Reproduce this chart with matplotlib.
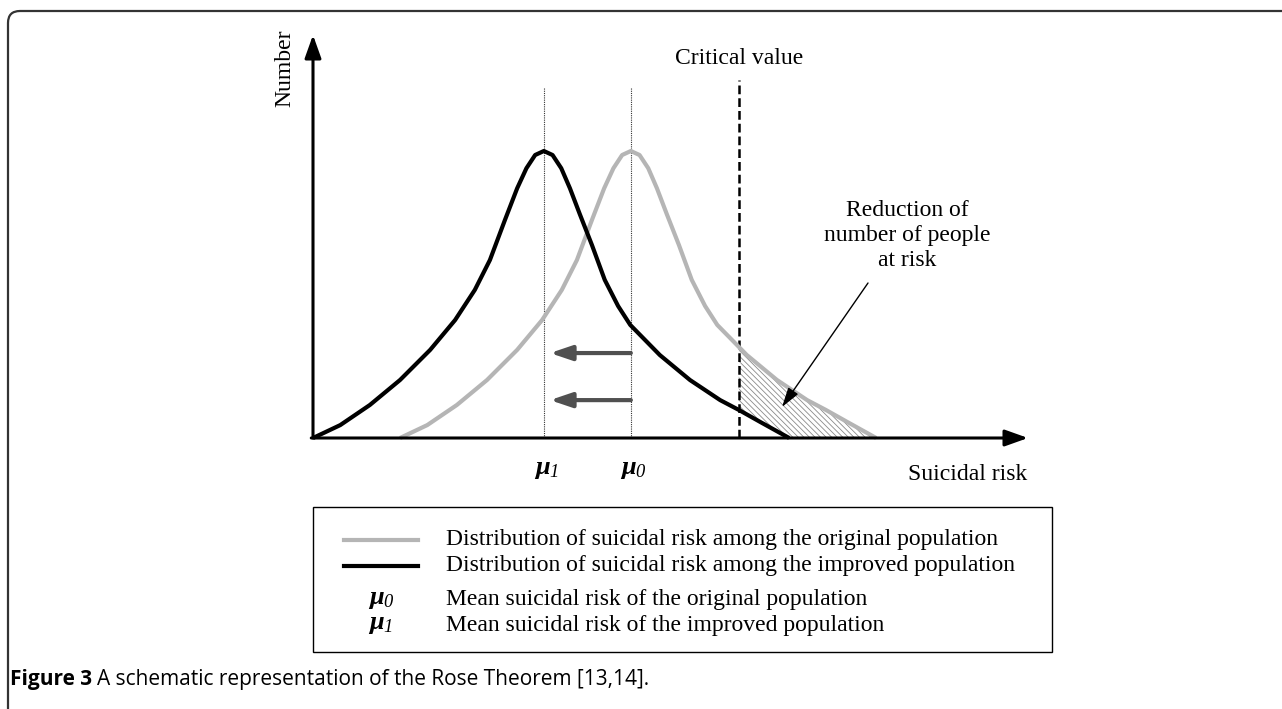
import numpy as np
import matplotlib.pyplot as plt
from matplotlib.patches import FancyBboxPatch, Rectangle
from matplotlib.lines import Line2D
from matplotlib.transforms import IdentityTransform

plt.rcParams['font.family'] = ['Liberation Serif', 'DejaVu Serif']
plt.rcParams['mathtext.fontset'] = 'custom'
plt.rcParams['mathtext.it'] = 'Liberation Serif:italic:bold'
plt.rcParams['mathtext.rm'] = 'Liberation Serif:italic'
plt.rcParams['hatch.linewidth'] = 0.6

W, H = 1282, 709

# distribution curves (risk units, number with peak = 100)
improved_x = [0, 4.7, 9.8, 15.0, 20.2, 24.5, 27.9, 30.5, 33.1, 35.2, 36.8, 38.3, 39.8,
              41.3, 42.8, 44.3, 46.0, 48.1, 50.3, 52.6, 54.7, 59.8, 65.0, 70.2, 73.4, 77.1, 82.1]
improved_y = [0, 4.5, 11.5, 20.2, 30.7, 41.1, 51.6, 62.0, 76.0, 87.0, 94.0, 98.6, 100,
              98.6, 94.0, 87.0, 78.0, 67.2, 55.1, 46.0, 39.4, 28.9, 20.2, 13.2, 9.8, 5.6, 0]
original_x = [15, 19.7, 24.8, 30.0, 35.2, 39.5, 42.9, 45.5, 48.1, 50.2, 51.8, 53.3, 54.8,
              56.3, 57.8, 59.3, 61.0, 63.1, 65.3, 67.6, 69.7, 74.8, 80.0, 85.2, 88.4, 92.1, 97.1]
original_y = [0, 4.5, 11.5, 20.2, 30.7, 41.1, 51.6, 62.0, 76.0, 87.0, 94.0, 98.6, 100,
              98.6, 94.0, 87.0, 78.0, 67.2, 55.1, 46.0, 39.4, 28.9, 20.2, 13.2, 9.8, 5.6, 0]

mu1 = 39.8
mu0 = 54.8
critical = 73.4
shift_y = [29.6, 13.2]

legend_lines = ['Distribution of suicidal risk among the original population',
                'Distribution of suicidal risk among the improved population']
legend_means = ['Mean suicidal risk of the original population',
                'Mean suicidal risk of the improved population']

# pixel mapping of the drawing
x0, y0, sx, sy = 313, 438, 5.8, 2.87

fig = plt.figure(figsize=(W / 100, H / 100), dpi=100)
ax = fig.add_axes([0, 0, 1, 1])
ax.set_xlim(-x0 / sx, (W - x0) / sx)
ax.set_ylim(-(H - y0) / sy, y0 / sy)
ax.axis('off')


def fx(px):
    return px / W


def fy(py):
    return 1 - py / H


# outer frame with a rounded corner
frame = FancyBboxPatch((8, -60), 1400, H - 11 + 60, boxstyle='round,pad=0,rounding_size=12',
                       transform=IdentityTransform(), fill=False, ec='#333333', lw=1.6)
fig.add_artist(frame)

# hatched region between the curves right of the critical value
xs = np.linspace(critical, original_x[-1], 300)
upper = np.interp(xs, original_x, original_y)
lower = np.interp(xs, improved_x, improved_y, right=0)
ax.fill_between(xs, lower, upper, facecolor='white', edgecolor='#8a8a8a', hatch='\\\\\\\\\\\\', lw=0)

# mean lines
for m in (mu1, mu0):
    ax.plot([m, m], [0, (y0 - 88) / sy], ls=(0, (1, 1)), lw=0.8, color='#333333')

# critical value
ax.plot([critical, critical], [0, (y0 - 80) / sy], color='k', lw=1.8, dashes=(3.5, 1.6))
ax.text(critical, (y0 - 58) / sy, 'Critical value', ha='center', va='center', fontsize=17)

# curves
ax.plot(original_x, original_y, color='#b5b5b5', lw=3, solid_capstyle='butt', solid_joinstyle='round')
ax.plot(improved_x, improved_y, color='k', lw=3, solid_capstyle='butt', solid_joinstyle='round')

# axes with arrowheads
ax.annotate('', xy=(0, (y0 - 35) / sy), xytext=(0, 0),
            arrowprops=dict(arrowstyle='-|>,head_length=0.7,head_width=0.25', lw=2.2,
                            color='k', mutation_scale=20, shrinkA=0, shrinkB=0))
ax.annotate('', xy=((1028 - x0) / sx, 0), xytext=(-0.3, 0),
            arrowprops=dict(arrowstyle='-|>,head_length=0.7,head_width=0.25', lw=2.2,
                            color='k', mutation_scale=20, shrinkA=0, shrinkB=0))
ax.text((285 - x0) / sx, (y0 - 68) / sy, 'Number', rotation=90, ha='center', va='center', fontsize=17)
ax.text((968 - x0) / sx, (y0 - 474) / sy, 'Suicidal risk', ha='center', va='center', fontsize=17)

# shift arrows
for yy in shift_y:
    ax.annotate('', xy=((550 - x0) / sx, yy), xytext=(mu0, yy),
                arrowprops=dict(arrowstyle='-|>,head_length=0.65,head_width=0.22', lw=3,
                                color='#505050', mutation_scale=20, shrinkA=0, shrinkB=0))

# mean labels
ax.text(mu1 + 0.4, (y0 - 470) / sy, r'$\mu_1$', ha='center', va='center', fontsize=19)
ax.text(mu0 + 0.4, (y0 - 470) / sy, r'$\mu_0$', ha='center', va='center', fontsize=19)

# annotation
ax.text((907 - x0) / sx, (y0 - 236) / sy, 'Reduction of\nnumber of people\nat risk',
        ha='center', va='center', multialignment='center', fontsize=17, linespacing=1.25)
ax.annotate('', xy=((782 - x0) / sx, (y0 - 407) / sy), xytext=((868 - x0) / sx, (y0 - 283) / sy),
            arrowprops=dict(arrowstyle='-|>,head_length=0.6,head_width=0.18', lw=1.0,
                            color='k', mutation_scale=20, shrinkA=0, shrinkB=0))

# legend box
fig.add_artist(Rectangle((fx(313), fy(652)), fx(1052) - fx(313), fy(507) - fy(652),
                         transform=fig.transFigure, fill=False, ec='k', lw=1.0))
row_y = [540, 566, 600, 625]
fig.add_artist(Line2D([fx(344), fx(418)], [fy(row_y[0]), fy(row_y[0])], color='#b5b5b5', lw=3))
fig.add_artist(Line2D([fx(344), fx(418)], [fy(row_y[1]), fy(row_y[1])], color='k', lw=3))
for i, t in enumerate(legend_lines):
    fig.text(fx(446), fy(row_y[i]), t, ha='left', va='center', fontsize=17)
for i, (sym, t) in enumerate(zip([r'$\mu_0$', r'$\mu_1$'], legend_means)):
    yy = row_y[2 + i]
    fig.text(fx(381), fy(yy), sym, ha='center', va='center', fontsize=19)
    fig.text(fx(446), fy(yy), t, ha='left', va='center', fontsize=17)

# caption
cap1 = fig.text(fx(10), fy(680), 'Figure 3', ha='left', va='center', fontsize=15,
                fontweight='bold', family=['Open Sans', 'DejaVu Sans'])
fig.canvas.draw()
bb = cap1.get_window_extent()
fig.text((bb.x1 + 5) / W, fy(680), 'A schematic representation of the Rose Theorem [13,14].',
         ha='left', va='center', fontsize=15, family=['Open Sans', 'DejaVu Sans'])

fig.savefig('out.png', dpi=100)
